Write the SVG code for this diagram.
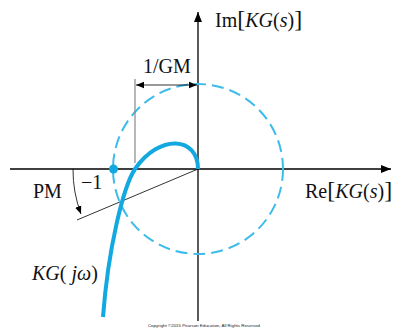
<svg xmlns="http://www.w3.org/2000/svg" width="393" height="329" viewBox="0 0 393 329">
<style>
.ax{stroke:#000;stroke-width:1.3;fill:none}
.thin{stroke:#000;stroke-width:0.8;fill:none}
.gray{stroke:#888;stroke-width:1.2;fill:none}
.circ{stroke:#3dbbea;stroke-width:2;fill:none;stroke-dasharray:12 6}
.nyq{stroke:#12a8e0;stroke-width:4;fill:none;stroke-linecap:butt}
text{font-family:"Liberation Serif","Times New Roman",serif;fill:#111}
.lbl{font-size:20px}
.it{font-style:italic}
.copy{font-family:"Liberation Sans",Arial,sans-serif;font-size:4.4px;fill:#222}
</style>
<defs>
<marker id="ah" viewBox="0 0 10 10" refX="10" refY="5" markerWidth="10" markerHeight="10" markerUnits="userSpaceOnUse" orient="auto-start-reverse">
<path d="M0,1 L10,5 L0,9 Z" fill="#000"/>
</marker>
<marker id="ahs" viewBox="0 0 10 10" refX="10" refY="5" markerWidth="8" markerHeight="8" markerUnits="userSpaceOnUse" orient="auto-start-reverse">
<path d="M0,1 L10,5 L0,9 Z" fill="#000"/>
</marker>
</defs>
<g id="axes">
<line class="ax" x1="10" y1="169" x2="391" y2="169" marker-end="url(#ah)"/>
<line class="ax" x1="198" y1="321" x2="198" y2="12" marker-end="url(#ah)"/>
</g>
<g id="unit-circle">
<circle class="circ" cx="198" cy="169" r="85"/>
</g>
<g id="connectors">
<line class="gray" x1="135" y1="79" x2="135" y2="163"/>
<line class="thin" x1="136" y1="85" x2="197" y2="85" marker-start="url(#ahs)" marker-end="url(#ahs)"/>
<line class="thin" x1="198" y1="169" x2="77" y2="220"/>
<path class="thin" d="M73,169 A125,125 0 0 0 81,214" marker-end="url(#ahs)"/>
</g>
<g id="nyquist">
<path class="nyq" d="M198,169 C198,137 160,133 135,169 C123,187 108,250 103,317"/>
<circle cx="113.5" cy="169" r="4.5" fill="#12a8e0"/>
</g>
<g id="labels">
<text class="lbl" x="215" y="27">Im<tspan font-size="24">[</tspan><tspan class="it">KG</tspan>(<tspan class="it">s</tspan>)<tspan font-size="24">]</tspan></text>
<text class="lbl" x="143" y="73">1/GM</text>
<text class="lbl" x="305" y="198">Re<tspan font-size="24">[</tspan><tspan class="it">KG</tspan>(<tspan class="it">s</tspan>)<tspan font-size="24">]</tspan></text>
<text class="lbl" x="33" y="198">PM</text>
<text class="lbl" x="81" y="189">−1</text>
<text class="lbl" x="32" y="280"><tspan class="it">KG</tspan>( <tspan class="it">jω</tspan>)</text>
<text class="copy" x="204" y="327" text-anchor="middle">Copyright ©2015 Pearson Education, All Rights Reserved</text>
</g>
</svg>
